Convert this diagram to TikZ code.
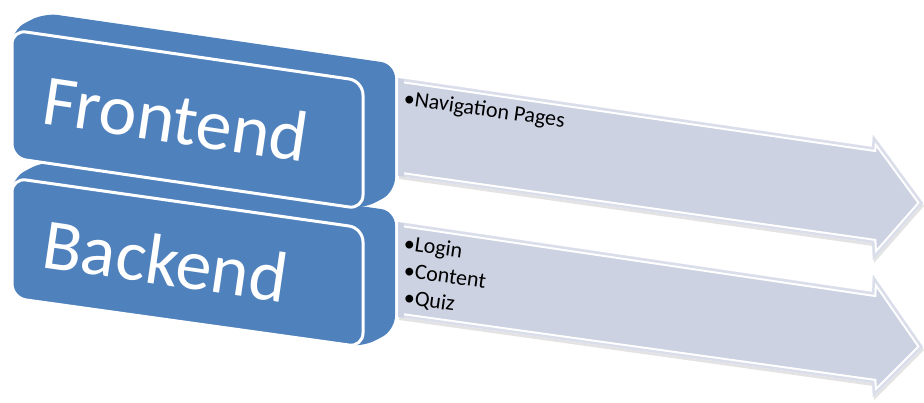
\documentclass[tikz,border=0pt]{standalone}
\usepackage{fontspec}
\setmainfont{Carlito}
\definecolor{boxblue}{RGB}{79,129,189}
\definecolor{arrowfill}{RGB}{204,210,226}
\definecolor{arrowlight}{RGB}{218,222,234}
\begin{document}
\begin{tikzpicture}[x=1pt,y=-1pt,
  boxbody/.style={fill=boxblue, rounded corners=14pt},
  boxfront/.style={fill=boxblue, draw=white, line width=3pt, rounded corners=14pt},
  bigtext/.style={text=white, font=\fontsize{72}{80}\selectfont, inner sep=0pt, anchor=base west},
  smalltext/.style={text=black, font=\fontsize{22}{26}\selectfont, inner sep=0pt, anchor=base west, rotate=-8},
  arrowA/.style={insert path={(398,78) -- (872,147) -- (873,135) -- (923,203) -- (873,260) -- (872,243) -- (398,176) -- cycle}},
  arrowB/.style={insert path={(398,222) -- (872,292) -- (873,275) -- (923,347) -- (873,397) -- (872,383) -- (398,317) -- cycle}},
  shadowstyle/.style={fill=gray, opacity=0.22, xshift=1pt, yshift=-3pt},
  bandwhite/.style={draw=white, line width=9pt, line join=miter},
  bandlight/.style={draw=arrowlight, line width=5pt, line join=miter}
]
\useasboundingbox (0,0) rectangle (924,403);

% arrows
\foreach \ar in {arrowA,arrowB}{
  \fill[shadowstyle, \ar];
  \fill[arrowfill, \ar];
  \begin{scope}
    \clip (404,0) rectangle (924,403);
    \clip[\ar];
    \draw[bandwhite, \ar];
    \draw[bandlight, \ar];
  \end{scope}
}

% Backend box
\path[boxbody] (12,178) -- (44,161) -- (395,211) -- (395,330) -- (363,347) -- (12,298) -- cycle;
\path[boxfront] (12,178) -- (363,228) -- (363,347) -- (12,298) -- cycle;

% Frontend box
\path[boxbody] (12,30) -- (44,13) -- (395,64) -- (395,192) -- (363,209) -- (12,158) -- cycle;
\path[boxfront] (12,30) -- (363,81) -- (363,209) -- (12,158) -- cycle;

% texts
\node[bigtext, rotate=-8.5] (front) at (40,123) {Frontend};
\node[bigtext, rotate=-8.3] (back) at (40,267) {Backend};

\node[smalltext] (nav) at (403,105) {•Navigation Pages};
\node[smalltext] (login) at (403,250) {•Login};
\node[smalltext] (content) at (403,277) {•Content};
\node[smalltext] (quiz) at (403,304) {•Quiz};
\end{tikzpicture}
\end{document}
